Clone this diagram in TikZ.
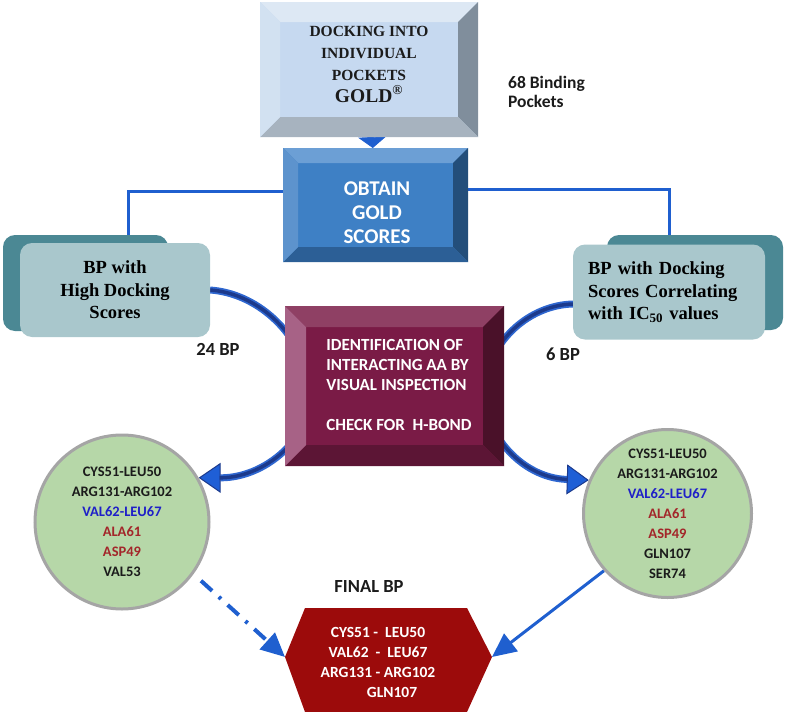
\documentclass[tikz,border=0pt]{standalone}
\usepackage{fontspec}
\setmainfont{Liberation Serif}
\newfontfamily\calibri{Carlito}
\usepackage{tikz}
\usetikzlibrary{arrows.meta,backgrounds}
\definecolor{dockface}{HTML}{C6D9F0}
\definecolor{docktop}{HTML}{DDE8F4}
\definecolor{dockleft}{HTML}{D2E1F1}
\definecolor{dockright}{HTML}{808E9C}
\definecolor{dockbottom}{HTML}{A7B3BF}
\definecolor{goldface}{HTML}{3E80C5}
\definecolor{goldtop}{HTML}{6C9FD5}
\definecolor{goldleft}{HTML}{5D93CD}
\definecolor{goldright}{HTML}{234E7A}
\definecolor{goldbottom}{HTML}{2C5F96}
\definecolor{identface}{HTML}{7A1B46}
\definecolor{identtop}{HTML}{8F4064}
\definecolor{identleft}{HTML}{A76286}
\definecolor{identright}{HTML}{4A1129}
\definecolor{identbottom}{HTML}{5C1535}
\definecolor{panelfront}{HTML}{A9C7CC}
\definecolor{panelrear}{HTML}{4B8894}
\definecolor{setgreen}{HTML}{B6D7A8}
\definecolor{setgray}{HTML}{A5A5A5}
\definecolor{linkblue}{HTML}{1F5FCF}
\definecolor{flowlight}{HTML}{2F67D0}
\definecolor{flowdark}{HTML}{1C3A8C}
\definecolor{flowblue}{HTML}{1F5FD6}
\definecolor{valblue}{HTML}{1F1FC8}
\definecolor{aspred}{HTML}{A3262A}
\definecolor{txtblack}{HTML}{1B1B1B}
\definecolor{finalred}{HTML}{9C0B0B}

% bevel rim round a frame node: node, inset, top, right, bottom, left
\newcommand{\bevelrim}[6]{%
  \fill[#3] (#1.north west) -- (#1.north east) -- ([shift={(-#2,-#2)}]#1.north east) -- ([shift={(#2,-#2)}]#1.north west) -- cycle;
  \fill[#4] (#1.north east) -- (#1.south east) -- ([shift={(-#2,#2)}]#1.south east) -- ([shift={(-#2,-#2)}]#1.north east) -- cycle;
  \fill[#5] (#1.south east) -- (#1.south west) -- ([shift={(#2,#2)}]#1.south west) -- ([shift={(-#2,#2)}]#1.south east) -- cycle;
  \fill[#6] (#1.south west) -- (#1.north west) -- ([shift={(#2,-#2)}]#1.north west) -- ([shift={(#2,#2)}]#1.south west) -- cycle;
}

\begin{document}
\begin{tikzpicture}[x=1pt,y=-1pt, frame/.style={rectangle,inner sep=0pt,outer sep=0pt}, panel/.style={rectangle,rounded corners=12pt,inner sep=0pt,outer sep=0pt,fill=panelfront,font=\bfseries\fontsize{18.5}{22.5}\selectfont}, panelback/.style={panel,fill=panelrear}, setcircle/.style={circle,fill=setgreen,draw=setgray,line width=3pt,inner sep=0pt,align=center,text=txtblack,font=\calibri\bfseries\fontsize{14.5}{20}\selectfont}, lbl/.style={inner sep=0pt,text=txtblack,font=\calibri\bfseries\fontsize{18.5}{20}\selectfont}, link/.style={draw=linkblue,line width=3pt}, flowedge/.style={draw=flowlight,line width=7pt,-{Triangle[width=30pt,length=22pt,line width=1pt,color=flowdark,fill=flowblue]}}, flowcore/.style={draw=flowdark,line width=3.5pt,shorten >=21pt}, pointer/.style={draw=linkblue,-{Triangle[width=22pt,length=24pt,fill=linkblue]}}]
  \useasboundingbox (0,0) rectangle (787,712);

  % bevelled boxes
  \node[frame,fill=dockface,minimum width=218pt,minimum height=135pt] (dock) at (369,69.5) {};
  \bevelrim{dock}{20pt}{docktop}{dockright}{dockbottom}{dockleft}
  \node[align=center,inner sep=0pt,text=txtblack,font=\bfseries\fontsize{15.5}{22}\selectfont] (docklabel) at (369,64) {DOCKING INTO\\INDIVIDUAL\\POCKETS\\{\fontsize{19.5}{22}\selectfont GOLD\textsuperscript{\textregistered}}};

  \node[frame,fill=goldface,minimum width=185pt,minimum height=114pt] (obtain) at (375.5,205) {};
  \bevelrim{obtain}{15pt}{goldtop}{goldright}{goldbottom}{goldleft}
  \node[align=center,inner sep=0pt,text=white,font=\calibri\bfseries\fontsize{21}{24}\selectfont] (obtainlabel) at (377,213) {OBTAIN\\GOLD\\SCORES};

  \node[frame,fill=identface,minimum width=219pt,minimum height=160pt] (ident) at (394.5,386) {};
  \bevelrim{ident}{21pt}{identtop}{identright}{identbottom}{identleft}
  \node[align=left,inner sep=0pt,text=white,font=\calibri\bfseries\fontsize{17}{20}\selectfont] (identlabel) at (399,385) {IDENTIFICATION OF\\INTERACTING AA BY\\VISUAL INSPECTION\\[20pt]CHECK FOR\ \ H-BOND};

  % side panels
  \node[panelback,minimum width=165pt,minimum height=96pt] (highback) at (85.5,283) {};
  \node[panel,minimum width=190pt,minimum height=94pt,align=center] (high) at (115,290) {BP with\\High Docking\\Scores};
  \node[panelback,minimum width=176pt,minimum height=95pt] (corrback) at (695,282.5) {};
  \node[panel,minimum width=192pt,minimum height=95pt,text width=162pt,align=left] (corr) at (669,292) {BP with Docking\\Scores Correlating\\with IC\textsubscript{50} values};

  % residue sets
  \node[setcircle,minimum size=174pt] (leftset) at (122,522) {CYS51-LEU50\\ARG131-ARG102\\\textcolor{valblue}{VAL62-LEU67}\\\textcolor{aspred}{ALA61}\\\textcolor{aspred}{ASP49}\\VAL53};
  \node[setcircle,minimum size=168pt] (rightset) at (667.5,513.5) {CYS51-LEU50\\ARG131-ARG102\\\textcolor{valblue}{VAL62-LEU67}\\\textcolor{aspred}{ALA61}\\\textcolor{aspred}{ASP49}\\GLN107\\SER74};

  % final binding pocket
  \fill[finalred] (285,657) coordinate (hexW) -- (305,608) -- (467,608) -- (492,657) coordinate (hexE) -- (467,712) -- (305,712) -- cycle;
  \node[align=center,inner sep=0pt,text=white,font=\calibri\bfseries\fontsize{15.5}{20}\selectfont] (final) at (378,662) {CYS51 -\ \ LEU50\\VAL62\ \ -\ \ LEU67\\ARG131 - ARG102\\\hspace*{28pt}GLN107};

  % labels
  \node[lbl,anchor=west,align=left,font=\calibri\bfseries\fontsize{17.5}{19}\selectfont] (pockets) at (508,91.5) {68 Binding\\Pockets};
  \node[lbl] (bp24) at (218,349) {24 BP};
  \node[lbl] (bp6) at (563,354) {6 BP};
  \node[lbl] (finalbp) at (369,586) {FINAL BP};

  \begin{scope}[on background layer]
    \draw[draw=linkblue,line width=0.8pt,-{Triangle[width=28pt,length=11pt,fill=linkblue]}] (dock) -- (obtain);
    \draw[link] ([yshift=14pt]obtain.west) -| ([xshift=13pt]high.north);
    \draw[link] ([yshift=16pt]obtain.east) -| (corr.north);
    \draw[flowedge] (high.east) .. controls (255,293) and (300,330) .. (310,385) .. controls (318,430) and (270,478) .. (leftset.30);
    \draw[flowcore] (high.east) .. controls (255,293) and (300,330) .. (310,385) .. controls (318,430) and (270,478) .. (leftset.30);
    \draw[flowedge] ([yshift=-12pt]corr.west) .. controls (530,305) and (490,340) .. (485,385) .. controls (480,430) and (520,478) .. (rightset.157);
    \draw[flowcore] ([yshift=-12pt]corr.west) .. controls (530,305) and (490,340) .. (485,385) .. controls (480,430) and (520,478) .. (rightset.157);
    \draw[pointer,line width=4pt,dash pattern=on 15pt off 9pt on 3pt off 9pt,shorten <=10pt] (leftset.-36) -- (hexW);
    \draw[pointer,line width=3pt] (rightset.-138) -- (hexE);
  \end{scope}
\end{tikzpicture}
\end{document}
